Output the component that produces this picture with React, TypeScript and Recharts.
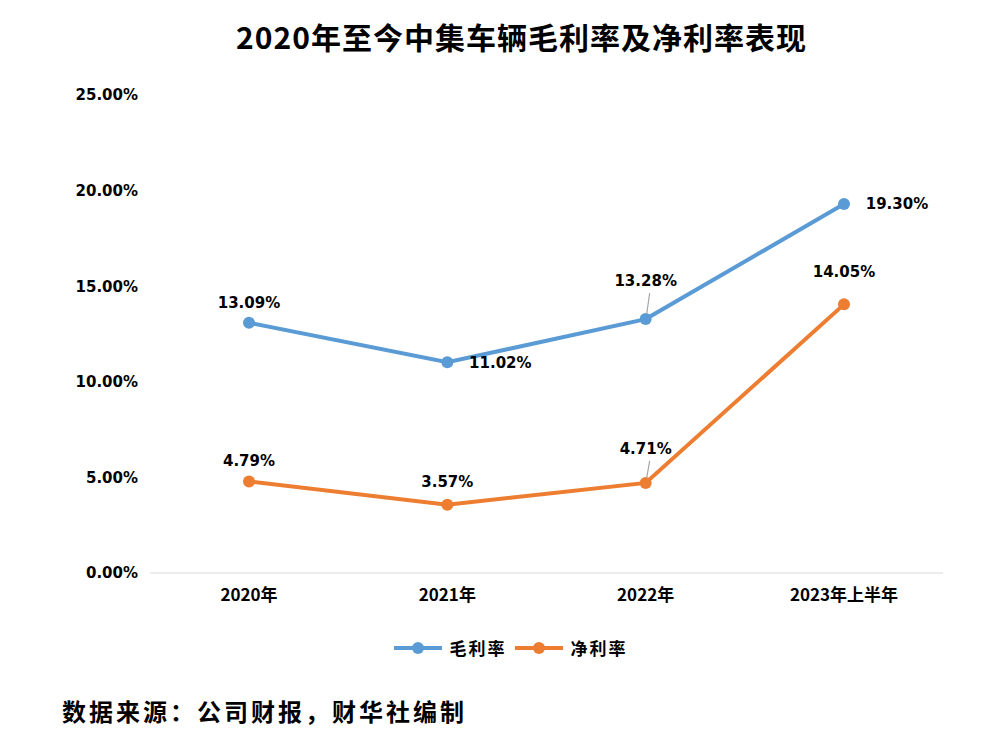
import { CartesianGrid, Legend, Line, LineChart, XAxis, YAxis } from "recharts";

const years = ["2020年", "2021年", "2022年", "2023年上半年"];
const grossMargin = [13.09, 11.02, 13.28, 19.3];
const netMargin = [4.79, 3.57, 4.71, 14.05];
const yTicks = [0, 5, 10, 15, 20, 25];

const data = years.map((year, i) => ({
  year,
  gross: grossMargin[i],
  net: netMargin[i],
}));

const BLUE = "#5B9BD5";
const ORANGE = "#ED7D31";
const NUM_FONT = "'DejaVu Sans', 'Noto Sans CJK SC', sans-serif";
const CJK_FONT = "'Noto Sans CJK SC', sans-serif";

// label placement per point: dx, dy from the dot, and whether a leader line is drawn
const grossLabelPos = [
  { dx: 0, dy: -20, leader: false },
  { dx: 53, dy: 1, leader: false },
  { dx: 0, dy: -38, leader: true },
  { dx: 53, dy: 0, leader: false },
];
const netLabelPos = [
  { dx: 0, dy: -20, leader: false },
  { dx: 0, dy: -23, leader: false },
  { dx: 0, dy: -34, leader: true },
  { dx: 0, dy: -32, leader: false },
];

function makeLabel(pos: typeof grossLabelPos) {
  return function PointLabel(props: any) {
    const { x, y, index, value } = props;
    const p = pos[index];
    if (!p) return null;
    return (
      <g>
        {p.leader && (
          <line x1={x + 1} y1={y - 5} x2={x + 4} y2={y + p.dy + 12} stroke="#A6A6A6" strokeWidth={1.2} />
        )}
        <text
          x={x + p.dx}
          y={y + p.dy}
          textAnchor="middle"
          dominantBaseline="central"
          fontFamily={NUM_FONT}
          fontWeight="bold"
          fontSize={15}
          fill="#000"
        >
          {Number(value).toFixed(2)}%
        </text>
      </g>
    );
  };
}

function LegendContent() {
  const items = [
    { name: "毛利率", color: BLUE },
    { name: "净利率", color: ORANGE },
  ];
  return (
    <div style={{ display: "flex", justifyContent: "center", gap: 6, paddingTop: 22, paddingLeft: 76 }}>
      {items.map((it) => (
        <div key={it.name} style={{ display: "flex", alignItems: "center" }}>
          <svg width={52} height={14}>
            <line x1={2} y1={7} x2={50} y2={7} stroke={it.color} strokeWidth={4} />
            <circle cx={26} cy={7} r={6} fill={it.color} />
          </svg>
          <span
            style={{
              fontFamily: CJK_FONT,
              fontWeight: "bold",
              fontSize: 17,
              marginLeft: 6,
              letterSpacing: 2,
              color: "#000",
            }}
          >
            {it.name}
          </span>
        </div>
      ))}
    </div>
  );
}

export default function App() {
  return (
    <div style={{ position: "absolute", left: 0, top: 0, width: 983, height: 740, background: "#fff" }}>
      <div
        style={{
          position: "absolute",
          top: 14,
          left: 30,
          width: 983,
          textAlign: "center",
          fontFamily: CJK_FONT,
          fontWeight: "bold",
          fontSize: 30,
          letterSpacing: 1,
          color: "#000",
        }}
      >
        2020年至今中集车辆毛利率及净利率表现
      </div>
      <LineChart
        width={983}
        height={740}
        data={data}
        margin={{ top: 95, right: 40, bottom: 67, left: 0 }}
      >
        <CartesianGrid horizontal={false} vertical={false} />
        <XAxis
          dataKey="year"
          axisLine={{ stroke: "#D9D9D9" }}
          tickLine={false}
          tickSize={0}
          tickMargin={16}
          height={40}
          padding={{ left: 99, right: 99 }}
          tick={{ fontFamily: CJK_FONT, fontWeight: "bold", fontSize: 17, fill: "#000" }}
        />
        <YAxis
          domain={[0, 25]}
          ticks={yTicks}
          width={150}
          axisLine={false}
          tickLine={false}
          tickSize={0}
          tickMargin={12}
          tickFormatter={(v: number) => `${v.toFixed(2)}%`}
          tick={{ fontFamily: NUM_FONT, fontWeight: "bold", fontSize: 15, fill: "#000" }}
        />
        <Legend verticalAlign="bottom" height={60} content={<LegendContent />} />
        <Line
          dataKey="gross"
          name="毛利率"
          stroke={BLUE}
          strokeWidth={4}
          dot={{ r: 6, fill: BLUE, stroke: BLUE, strokeWidth: 0 }}
          activeDot={false}
          isAnimationActive={false}
          label={makeLabel(grossLabelPos)}
        />
        <Line
          dataKey="net"
          name="净利率"
          stroke={ORANGE}
          strokeWidth={4}
          dot={{ r: 6, fill: ORANGE, stroke: ORANGE, strokeWidth: 0 }}
          activeDot={false}
          isAnimationActive={false}
          label={makeLabel(netLabelPos)}
        />
      </LineChart>
      <div
        style={{
          position: "absolute",
          left: 62,
          top: 693,
          fontFamily: CJK_FONT,
          fontWeight: "bold",
          fontSize: 24,
          letterSpacing: 3,
          color: "#000",
        }}
      >
        数据来源：公司财报，财华社编制
      </div>
    </div>
  );
}
